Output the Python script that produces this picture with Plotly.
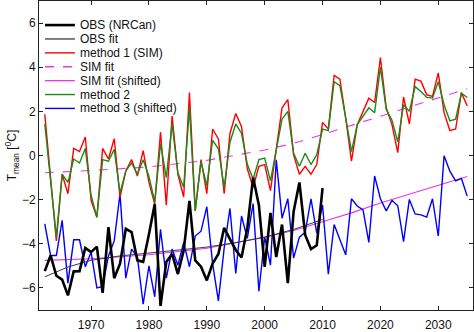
import plotly.graph_objects as go

years = list(range(1962, 2036))
obs_years = list(range(1962, 2011))

obs_nrcan = [-5.24, -4.53, -5.45, -5.62, -6.34, -5.25, -5.24, -4.19, -4.38, -4.13,
             -6.22, -3.25, -5.56, -4.9, -3.32, -3.47, -4.75, -4.82, -3.57, -2.2,
             -6.81, -4.82, -4.46, -5.37, -4.31, -2.06, -4.75, -5.04, -5.66, -4.9,
             -4.46, -3.28, -3.79, -4.28, -4.62, -3.28, -1.0, -2.25, -5.05, -2.6,
             -4.6, -3.13, -5.78, -2.54, -1.22, -3.6, -4.24, -4.07, -1.48]

method1 = [1.87, -1.0, -3.87, -0.85, -1.73, 0.32, 0.18, 0.84, -2.03, -2.8,
           0.32, -0.16, 0.76, -1.9, -0.7, -0.18, -0.93, 0.22, -1.22, -2.2,
           1.06, -2.25, 1.79, -0.85, -1.88, 2.85, -2.5, -0.19, -1.73, 1.2,
           0.75, -1.73, 1.0, 1.9, 1.3, -0.6, -1.45, -0.49, -0.41, -1.59,
           0.25, 2.16, 2.53, 0.03, -0.85, -0.49, -0.85, -0.41, 1.5, 1.2,
           3.63, 3.46, 1.7, -0.26, 1.4, 2.0, 2.6, 2.4, 4.44, 2.16,
           1.4, 0.13, 2.65, 1.43, 3.46, 3.37, 2.75, 2.68, 3.74, 1.94,
           1.13, 1.2, 2.85, 2.24]

method2 = [1.43, -1.15, -3.7, -0.85, -1.22, -0.16, -0.34, 0.32, -1.8, -2.8,
           -0.19, -0.26, 0.28, -1.7, -0.7, -0.34, -0.85, -0.19, -0.95, -2.1,
           0.54, -1.0, 1.43, -0.78, -1.44, 2.16, -2.5, -0.3, -1.37, 0.69,
           0.3, -1.44, 0.6, 1.43, 1.0, -0.4, -1.07, -0.19, -0.12, -1.15,
           0.25, 1.65, 2.0, 0.1, -0.49, 0.1, -0.41, 0.03, 1.2, 1.13,
           3.34, 3.16, 1.7, 0.18, 1.4, 1.8, 2.16, 1.94, 4.0, 2.09,
           1.6, 0.62, 2.3, 2.0, 3.12, 2.9, 2.63, 2.6, 3.34, 2.3,
           1.57, 1.65, 2.82, 2.63]

method3 = [-3.1, -4.53, -4.53, -2.94, -5.78, -3.82, -3.82, -5.04, -4.38, -6.0,
           -5.93, -4.55, -3.87, -1.74, -5.56, -4.24, -4.6, -6.74, -5.0, -6.4,
           -3.35, -5.56, -4.24, -4.97, -3.94, -5.04, -3.65, -3.43, -2.32, -4.9,
           -6.59, -4.2, -2.4, -5.34, -2.74, -3.75, -2.18, -6.15, -3.7, -4.97,
           -0.2, -2.84, -1.96, -4.65, -3.7, -3.48, -1.96, -3.52, -2.24, -5.38,
           -3.13, -3.79, -4.5, -1.96, -2.29, -2.47, -3.94, -0.93, -1.96, -2.51,
           -2.03, -2.28, -3.9, -1.99, -2.65, -2.69, -2.79, -1.96, -3.65, -0.01,
           -0.71, -1.15, -1.04, -1.84]

obs_fit_years = [1962, 1966, 1970, 1975, 1980, 1985, 1990, 1995, 2000, 2005, 2010]
obs_fit = [-5.5, -5.05, -4.75, -4.55, -4.42, -4.3, -4.15, -3.95, -3.7, -3.35, -2.9]

sim_fit_years = [1962, 1970, 1980, 1990, 2000, 2005, 2010, 2015, 2020, 2025, 2030, 2035]
sim_fit = [-0.78, -0.68, -0.52, -0.22, 0.25, 0.55, 0.95, 1.35, 1.78, 2.2, 2.6, 3.02]
sim_fit_shifted = [-4.75, -4.68, -4.5, -4.2, -3.7, -3.4, -3.0, -2.6, -2.15, -1.75, -1.35, -0.95]

x_ticks = [1970, 1980, 1990, 2000, 2010, 2020, 2030]
y_ticks = [-6, -4, -2, 0, 2, 4, 6]

names = ["OBS (NRCan)", "OBS fit", "method 1 (SIM)", "SIM fit",
         "SIM fit (shifted)", "method 2", "method 3 (shifted)"]

RED = "#ff0000"
GREEN = "#1a8a1a"
BLUE = "#0000ff"
MAG = "#ee33ee"
BLACK = "#000000"
GRAY = "#3c3c3c"

styles = {
    "OBS (NRCan)": dict(color=BLACK, width=2.6, dash="solid"),
    "OBS fit": dict(color=GRAY, width=1.0, dash="solid"),
    "method 1 (SIM)": dict(color=RED, width=1.4, dash="solid"),
    "SIM fit": dict(color=MAG, width=1.1, dash="dash"),
    "SIM fit (shifted)": dict(color=MAG, width=1.1, dash="solid"),
    "method 2": dict(color=GREEN, width=1.4, dash="solid"),
    "method 3 (shifted)": dict(color=BLUE, width=1.4, dash="solid"),
}

fig = go.Figure()

def add(x, y, name):
    s = styles[name]
    fig.add_trace(go.Scatter(x=x, y=y, mode="lines", name=name, showlegend=False,
                             line=dict(color=s["color"], width=s["width"], dash=s["dash"])))

add(sim_fit_years, sim_fit, "SIM fit")
add(sim_fit_years, sim_fit_shifted, "SIM fit (shifted)")
add(years, method3, "method 3 (shifted)")
add(years, method1, "method 1 (SIM)")
add(years, method2, "method 2")
add(obs_fit_years, obs_fit, "OBS fit")
add(obs_years, obs_nrcan, "OBS (NRCan)")

# manual legend (paper coordinates)
W, H = 474, 332
ML, MR, MT, MB = 39, 0, 0, 15
pw, ph = W - ML - MR, H - MT - MB
def px(xp):
    return (xp - ML) / pw
def py(yp):
    return 1 - (yp - MT) / ph

row0, gap = 24.7, 14.25
for i, n in enumerate(names):
    s = styles[n]
    yy = py(row0 + i * gap)
    fig.add_shape(type="line", xref="paper", yref="paper",
                  x0=px(45), x1=px(75), y0=yy, y1=yy,
                  line=dict(color=s["color"], width=max(s["width"], 1.3) if n != "OBS (NRCan)" else 2.6,
                            dash=s["dash"]))
    fig.add_annotation(xref="paper", yref="paper", x=px(78), y=yy, text=n,
                       showarrow=False, xanchor="left", yanchor="middle",
                       font=dict(family="Liberation Sans, Arial", size=12, color="#111"))

axis_common = dict(showgrid=False, zeroline=False, showline=True, linecolor="#222",
                   linewidth=1, mirror="ticks", ticks="inside", ticklen=4,
                   tickcolor="#222", tickfont=dict(family="Liberation Sans, Arial", size=12, color="#111"))

fig.update_layout(
    width=W, height=H,
    margin=dict(l=ML, r=MR, t=MT, b=MB, pad=0),
    paper_bgcolor="white", plot_bgcolor="white",
    xaxis=dict(range=[1961, 2036], tickvals=x_ticks, ticklabelstandoff=4, **axis_common),
    yaxis=dict(range=[-7, 7], tickvals=y_ticks,
               title=dict(text="T<sub>mean</sub> [<sup>0</sup>C]", standoff=2,
                          font=dict(family="Liberation Sans, Arial", size=12, color="#111")),
               **axis_common),
)

fig.write_html("out.html")
